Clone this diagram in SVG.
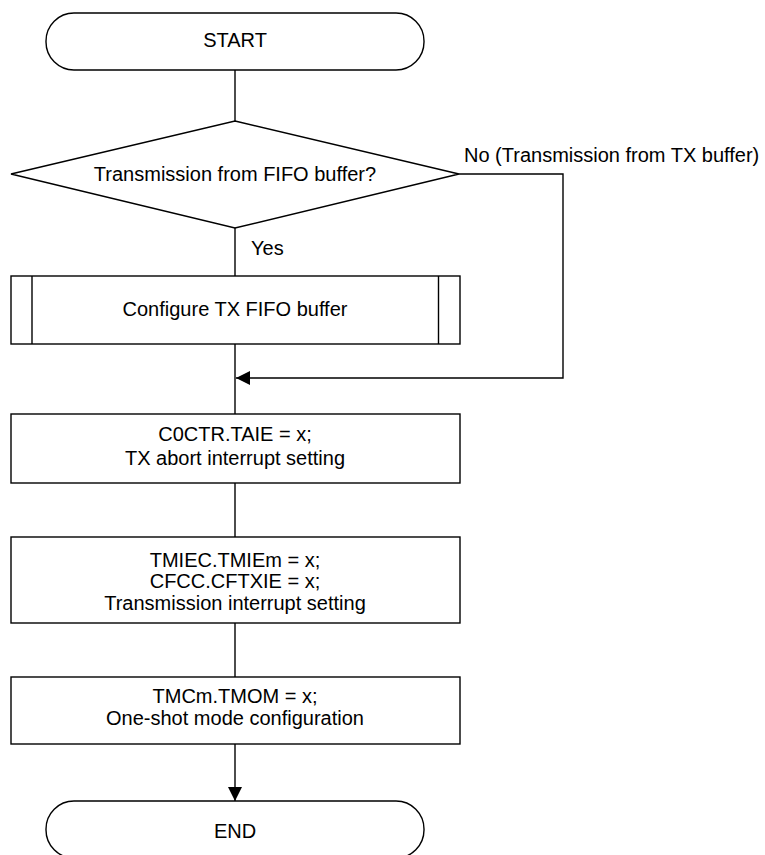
<svg xmlns="http://www.w3.org/2000/svg" width="765" height="855" viewBox="0 0 765 855">
<defs>
<style>
.s{fill:#fff;stroke:#000;stroke-width:1.4}
.l{fill:none;stroke:#000;stroke-width:1.4}
.t{font-family:"Liberation Sans",Arial,sans-serif;font-size:20px;fill:#000;text-anchor:middle}
.ts{font-family:"Liberation Sans",Arial,sans-serif;font-size:20px;fill:#000}
</style>
<marker id="arr" viewBox="0 0 14 14" refX="14" refY="7" markerWidth="14" markerHeight="14" markerUnits="userSpaceOnUse" orient="auto">
<path d="M0,0 L14,7 L0,14 Z" fill="#000"/>
</marker>
</defs>
<rect width="765" height="855" fill="#fff"/>
<g id="connectors">
<line class="l" x1="235" y1="70" x2="235" y2="121"/>
<line class="l" x1="235" y1="228" x2="235" y2="276"/>
<line class="l" x1="235" y1="344" x2="235" y2="414"/>
<polyline class="l" points="459,174 563,174 563,378 236,378" marker-end="url(#arr)"/>
<line class="l" x1="235" y1="483" x2="235" y2="537"/>
<line class="l" x1="235" y1="623" x2="235" y2="677"/>
<line class="l" x1="235" y1="744" x2="235" y2="801" marker-end="url(#arr)"/>
<text class="ts" x="251" y="255">Yes</text>
<text class="ts" x="464" y="162">No (Transmission from TX buffer)</text>
</g>
<g id="start">
<rect class="s" x="46" y="13" width="378" height="57" rx="28" ry="28"/>
<text class="t" x="235" y="47">START</text>
</g>
<g id="decision">
<polygon class="s" points="235,121 459,174 235,228 11,174"/>
<text class="t" x="235" y="181">Transmission from FIFO buffer?</text>
</g>
<g id="configure">
<rect class="s" x="11" y="276" width="449" height="68"/>
<line class="l" x1="32" y1="276" x2="32" y2="344"/>
<line class="l" x1="438.5" y1="276" x2="438.5" y2="344"/>
<text class="t" x="235" y="316">Configure TX FIFO buffer</text>
</g>
<g id="c0ctr">
<rect class="s" x="11" y="414" width="449" height="69"/>
<text class="t" x="235" y="441">C0CTR.TAIE = x;</text>
<text class="t" x="235" y="465">TX abort interrupt setting</text>
</g>
<g id="tmiec">
<rect class="s" x="11" y="537" width="449" height="86"/>
<text class="t" x="235" y="567">TMIEC.TMIEm = x;</text>
<text class="t" x="235" y="588">CFCC.CFTXIE = x;</text>
<text class="t" x="235" y="610">Transmission interrupt setting</text>
</g>
<g id="tmcm">
<rect class="s" x="11" y="677" width="449" height="67"/>
<text class="t" x="235" y="703">TMCm.TMOM = x;</text>
<text class="t" x="235" y="725">One-shot mode configuration</text>
</g>
<g id="end">
<rect class="s" x="46" y="801" width="378" height="57" rx="28" ry="28"/>
<text class="t" x="235" y="838">END</text>
</g>
</svg>
